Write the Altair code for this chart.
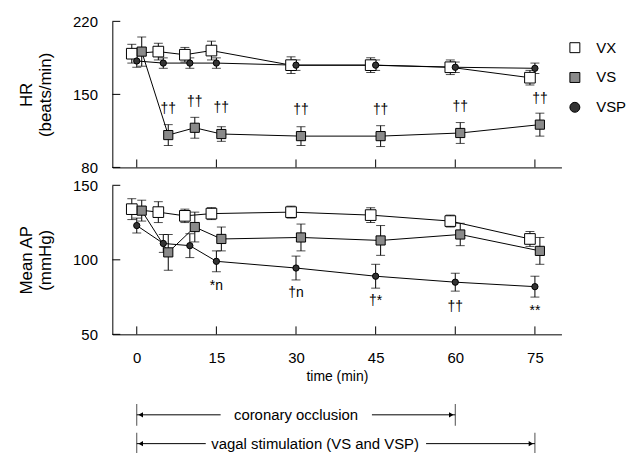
import altair as alt
import pandas as pd

# ---------------- data ----------------
time_min = [0, 5, 10, 15, 30, 45, 60, 75]
series_names = ["VX", "VS", "VSP"]

hr_vx = [189, 191, 188, 192, 178, 178, 176, 166]
hr_vx_se = [9, 8, 7, 9, 8, 7, 7, 7]
hr_vs = [191, 111, 118, 112, 110, 110, 113, 121]
hr_vs_se = [14, 10, 10, 7, 9, 10, 10, 11]
hr_vsp = [182, 180, 180, 180, 178, 178, 176, 175]
hr_vsp_se = [6, 5, 5, 5, 5, 5, 5, 5]
hr_vs_sig = ["", "††", "††", "††", "††", "††", "††", "††"]

ap_vx = [134, 132, 129.5, 131, 132, 130, 126, 114]
ap_vx_se = [7, 7, 4.5, 4, 4, 5, 4, 5]
ap_vs = [133, 105, 122, 114, 115, 113, 117, 106]
ap_vs_se = [7, 12, 10, 8, 9, 10, 7.5, 9]
ap_vsp = [123, 111, 109.5, 99, 94.5, 89, 85, 82]
ap_vsp_se = [5, 6, 8, 7, 8, 8, 6, 7]
ap_vsp_sig = ["", "", "", "*n", "†n", "†*", "††", "**"]

x_tick_values = [0, 15, 30, 45, 60, 75]
hr_tick_values = [80, 150, 220]
ap_tick_values = [50, 100, 150]

period_labels = ["coronary occlusion", "vagal stimulation (VS and VSP)"]
period_start = [0, 0]
period_end = [60, 75]

# ---------------- styling / layout ----------------
FONT = "Liberation Sans"
W = 452
H_TOP = 147
H_BOT = 150
OFFSETS = {"VX": -5, "VS": 5, "VSP": 0}
SIZES = {"VX": 115, "VS": 85, "VSP": 40}
x_scale = alt.Scale(domain=[-4.6, 80], nice=False, zero=False)
shape_scale = alt.Scale(domain=series_names, range=["square", "square", "circle"])
fill_scale = alt.Scale(domain=series_names, range=["white", "#8a8a8a", "#333333"])
stroke_scale = alt.Scale(domain=series_names, range=["black", "black", "black"])
legend = alt.Legend(title=" ", titleFontSize=12, titlePadding=7, orient="right",
                    offset=6, padding=0,
                    labelFontSize=15, labelFont=FONT, labelColor="black",
                    symbolStrokeColor="black", symbolStrokeWidth=1, symbolSize=100,
                    rowPadding=14, labelOffset=14)


def long_table(vals, ses, names):
    rows = []
    for name, v, s in zip(names, vals, ses):
        for t, m, e in zip(time_min, v, s):
            rows.append({"series": name, "time": t, "mean": m, "lo": m - e, "hi": m + e})
    return pd.DataFrame(rows)


hr_df = long_table([hr_vx, hr_vs, hr_vsp], [hr_vx_se, hr_vs_se, hr_vsp_se], series_names)
ap_df = long_table([ap_vx, ap_vs, ap_vsp], [ap_vx_se, ap_vs_se, ap_vsp_se], series_names)
hr_sig = pd.DataFrame({"time": time_min, "mean": hr_vs, "sig": hr_vs_sig})
ap_sig = pd.DataFrame({"time": time_min, "mean": ap_vsp, "sig": ap_vsp_sig})


def panel(df, sig_df, sig_series, sig_dy, title, ticks, ydomain, height, show_x):
    y_scale = alt.Scale(domain=ydomain, nice=False, zero=False)
    y_axis = alt.Axis(values=ticks, ticks=False, grid=False, labelFontSize=15,
                      labelPadding=15, title=title, titleFontSize=17,
                      titleFontWeight="normal", titlePadding=18, titleLineHeight=19)
    if show_x:
        x_axis = alt.Axis(values=x_tick_values, ticks=False, grid=False, labelFontSize=15,
                          labelPadding=16, title="time (min)", titleFontSize=14,
                          titleFontWeight="normal", titlePadding=4)
    else:
        x_axis = alt.Axis(values=x_tick_values, ticks=False, labels=False, grid=False, title=None)

    def X(field):
        return alt.X(f"{field}:Q", scale=x_scale, axis=x_axis)

    def Y(field):
        return alt.Y(f"{field}:Q", scale=y_scale, axis=y_axis)

    lines, bars, points = [], [], []
    for s in series_names:
        off = OFFSETS[s]
        base = alt.Chart(df[df.series == s])
        lines.append(base.mark_line(color="black", strokeWidth=1, xOffset=off)
                     .encode(x=X("time"), y=Y("mean")))
        bars.append(base.mark_rule(color="black", strokeWidth=1, xOffset=off)
                    .encode(x=X("time"), y=Y("lo"), y2="hi:Q"))
        bars.append(base.mark_tick(color="black", orient="horizontal", size=9,
                                   thickness=1, xOffset=off)
                    .encode(x=X("time"), y=Y("lo")))
        bars.append(base.mark_tick(color="black", orient="horizontal", size=9,
                                   thickness=1, xOffset=off)
                    .encode(x=X("time"), y=Y("hi")))
        points.append(base.mark_point(filled=False, opacity=1, strokeWidth=1,
                                      xOffset=off, size=SIZES[s], fillOpacity=1)
                      .encode(x=X("time"), y=Y("mean"),
                              shape=alt.Shape("series:N", scale=shape_scale, legend=legend),
                              fill=alt.Fill("series:N", scale=fill_scale, legend=legend),
                              stroke=alt.Stroke("series:N", scale=stroke_scale, legend=legend)))
    sig = (alt.Chart(sig_df[sig_df.sig != ""])
           .mark_text(font=FONT, fontSize=14, color="black", dy=sig_dy,
                      xOffset=OFFSETS[sig_series])
           .encode(x=X("time"), y=Y("mean"), text="sig:N"))
    yticks = (alt.Chart(pd.DataFrame({"v": ticks})).mark_rule(color="black")
              .encode(y=Y("v"), x=alt.value(0), x2=alt.value(8)))
    xticks = (alt.Chart(pd.DataFrame({"v": x_tick_values})).mark_rule(color="black")
              .encode(x=X("v"), y=alt.value(height), y2=alt.value(height - 8)))
    return alt.layer(*lines, *bars, *points, sig, yticks, xticks).properties(
        width=W, height=height)


top = panel(hr_df, hr_sig, "VS", -26, ["HR", "(beats/min)"], hr_tick_values,
            [80, 220], H_TOP, False)
bottom = panel(ap_df, ap_sig, "VSP", 25, ["Mean AP", "(mmHg)"], ap_tick_values,
               [50, 150], H_BOT, True)

# ---------------- period arrows below the time axis ----------------
gap_start = [15.8, 13.0]
gap_end = [44.3, 54.5]
label_pos = [30.0, 33.6]
per = pd.DataFrame({"row": [0, 1], "label": period_labels, "start": period_start,
                    "end": period_end, "g0": gap_start, "g1": gap_end, "mid": label_pos})
ends = pd.DataFrame({"row": [0, 0, 1, 1],
                     "t": [period_start[0], period_end[0], period_start[1], period_end[1]]})
ax_none = alt.Axis(labels=False, ticks=False, domain=False, grid=False, title=None)
ys = alt.Y("row:Q", axis=None, scale=alt.Scale(domain=[1.38, -0.69], nice=False, zero=False))
bp = alt.Chart(per)
arrows = alt.layer(
    alt.Chart(ends).mark_tick(color="black", orient="vertical", size=22, thickness=1)
    .encode(x=alt.X("t:Q", scale=x_scale, axis=ax_none), y=ys),
    bp.mark_rule(color="black", strokeWidth=1)
    .encode(x=alt.X("start:Q", scale=x_scale, axis=ax_none), x2="g0:Q", y=ys),
    bp.mark_rule(color="black", strokeWidth=1)
    .encode(x=alt.X("g1:Q", scale=x_scale, axis=ax_none), x2="end:Q", y=ys),
    bp.mark_point(shape="triangle-left", filled=True, color="black", size=28, xOffset=4, opacity=1)
    .encode(x=alt.X("start:Q", scale=x_scale, axis=ax_none), y=ys),
    bp.mark_point(shape="triangle-right", filled=True, color="black", size=28, xOffset=-4, opacity=1)
    .encode(x=alt.X("end:Q", scale=x_scale, axis=ax_none), y=ys),
    bp.mark_text(font=FONT, fontSize=15, color="black")
    .encode(x=alt.X("mid:Q", scale=x_scale, axis=ax_none), y=ys, text="label:N"),
).properties(width=W, height=60)

chart = alt.vconcat(
    alt.vconcat(top, bottom, spacing=3),
    arrows,
    spacing=12,
).properties(
    padding={"left": 9, "top": 5, "right": 5, "bottom": 0}
).configure(font=FONT).configure_view(
    strokeWidth=0, stroke="transparent"
).configure_axis(
    domainColor="black", labelColor="black", titleColor="black",
    labelFont=FONT, titleFont=FONT,
)

chart.save("out.html", embed_options={"renderer": "svg", "actions": False})
